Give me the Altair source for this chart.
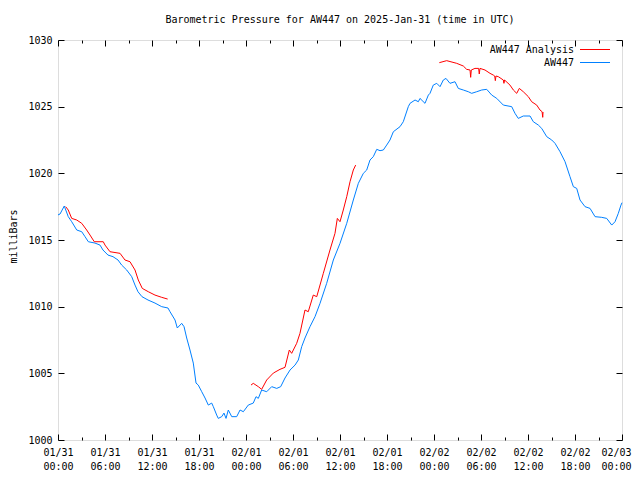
import altair as alt
import pandas as pd

# AW447 station readings (hours since 2025-01-31 00:00 UTC, milliBars)
blue_hours = [0.0, 0.26, 0.80, 1.31, 1.75, 2.39, 3.03, 3.45, 3.87, 4.72,
              5.36, 5.74, 6.38, 7.02, 7.66, 8.13, 8.77, 9.41, 9.83, 10.21,
              10.72, 11.49, 12.38, 13.24, 14.04, 14.30, 14.94, 15.23, 15.79, 16.09,
              16.43, 16.85, 17.27, 17.62, 17.91, 18.35, 18.77, 19.19, 19.62, 19.83,
              20.26, 20.46, 20.90, 21.19, 21.45, 21.74, 22.18, 22.81, 23.24, 23.66,
              24.29, 24.93, 25.28, 25.57, 26.00, 26.64, 27.28, 27.92, 28.43, 28.98,
              29.62, 30.26, 30.68, 31.11, 31.53, 32.17, 32.81, 33.45, 34.30, 35.15,
              36.00, 36.86, 37.70, 38.34, 38.98, 39.41, 39.83, 40.25, 40.69, 41.11,
              41.53, 41.96, 42.38, 42.81, 43.66, 44.08, 44.72, 44.94, 45.58, 46.00,
              46.21, 46.85, 47.28, 47.49, 47.91, 48.35, 48.77, 49.19, 49.53, 50.04,
              50.68, 51.10, 51.74, 52.38, 52.81, 53.45, 54.09, 54.73, 55.37, 56.01,
              56.85, 57.92, 58.34, 58.76, 59.40, 60.26, 60.68, 61.32, 61.75, 62.39,
              63.03, 63.45, 64.09, 64.73, 65.36, 65.79, 66.22, 66.64, 67.28, 67.92,
              68.56, 69.41, 70.05, 70.69, 71.11, 71.53, 71.87, 72.0]
blue_press = [1016.88, 1016.95, 1017.55, 1016.75, 1016.37, 1015.75, 1015.62, 1015.25, 1014.87, 1014.77,
              1014.62, 1014.25, 1013.87, 1013.75, 1013.50, 1013.12, 1012.75, 1012.25, 1011.62, 1011.12,
              1010.75, 1010.50, 1010.27, 1010.00, 1009.90, 1009.62, 1009.00, 1008.40, 1008.75, 1008.50,
              1007.65, 1006.75, 1005.77, 1004.27, 1004.12, 1003.62, 1003.15, 1002.62, 1002.77, 1002.50,
              1001.87, 1001.62, 1001.75, 1002.02, 1001.62, 1002.25, 1001.75, 1001.75, 1002.25, 1002.12,
              1002.62, 1002.77, 1003.25, 1003.12, 1003.75, 1003.62, 1004.00, 1003.87, 1004.00, 1004.65,
              1005.25, 1005.62, 1006.00, 1007.00, 1007.65, 1008.50, 1009.25, 1010.25, 1011.75, 1013.50,
              1014.75, 1016.25, 1018.00, 1019.25, 1020.00, 1020.25, 1021.00, 1021.25, 1021.80, 1021.70,
              1021.75, 1022.12, 1022.50, 1023.12, 1023.50, 1023.87, 1025.00, 1025.25, 1025.50, 1025.37,
              1025.62, 1025.25, 1025.87, 1026.00, 1026.62, 1026.75, 1026.50, 1027.00, 1027.12, 1026.75,
              1026.87, 1026.37, 1026.25, 1026.12, 1026.00, 1026.12, 1026.25, 1026.30, 1025.87, 1025.62,
              1025.12, 1025.00, 1024.50, 1024.12, 1024.30, 1024.30, 1023.87, 1023.62, 1023.37, 1022.75,
              1022.50, 1022.25, 1021.62, 1020.87, 1019.75, 1019.00, 1018.87, 1018.00, 1017.50, 1017.37,
              1016.75, 1016.70, 1016.62, 1016.12, 1016.37, 1017.00, 1017.62, 1017.80]

# AW447 Analysis, three separate runs
red1_hours = [0.98, 1.31, 1.75, 2.39, 3.03, 3.66, 4.09, 4.63, 5.78, 6.00, 6.64,
              7.92, 8.55, 9.19, 9.83, 10.25, 10.76, 11.53, 12.38, 13.24, 14.00]
red1_press = [1017.5, 1017.25, 1016.62, 1016.5, 1016.25, 1015.75, 1015.37, 1014.87, 1014.87, 1014.62, 1014.12,
              1014.0, 1013.5, 1013.37, 1012.75, 1012.0, 1011.37, 1011.12, 1010.87, 1010.7, 1010.57]
red2_hours = [24.64, 24.93, 25.57, 26.00, 26.64, 27.49, 28.34, 28.98, 29.53, 29.83, 30.47, 30.89, 31.53,
              31.95, 32.59, 33.03, 33.87, 34.72, 35.36, 35.66, 36.00, 36.42, 36.86, 37.28, 37.70, 38.00]
red2_press = [1004.12, 1004.25, 1004.0, 1003.8, 1004.5, 1005.02, 1005.3, 1005.45, 1006.75, 1006.5, 1007.25, 1008.0, 1009.75,
              1009.62, 1010.87, 1010.75, 1012.5, 1014.25, 1015.5, 1016.62, 1016.37, 1017.25, 1018.25, 1019.37, 1020.25, 1020.62]
red3_hours = [48.68, 49.62, 50.90, 51.74, 52.17, 52.60, 52.68, 52.76, 53.23, 53.70, 53.78, 53.87,
              54.51, 55.15, 55.57, 55.75, 55.83, 55.91, 56.21, 56.85, 56.93, 57.01, 57.70, 58.13,
              58.56, 58.89, 59.40, 60.04, 60.47, 61.11, 61.53, 61.80, 61.88, 61.92]
red3_press = [1028.3, 1028.45, 1028.25, 1028.05, 1027.8, 1027.75, 1027.2, 1027.75, 1027.87, 1027.87, 1027.45, 1027.87,
              1027.75, 1027.5, 1027.37, 1027.3, 1026.95, 1027.3, 1027.25, 1027.0, 1026.75, 1027.0, 1026.62, 1026.25,
              1026.0, 1026.37, 1026.12, 1025.75, 1025.37, 1025.12, 1024.75, 1024.62, 1024.2, 1024.6]

series_names = ["AW447 Analysis", "AW447"]
series_colors = ["#ff0000", "#0080ff"]
day_labels = ["01/31", "02/01", "02/02", "02/03"]
y_ticks = [1000, 1005, 1010, 1015, 1020, 1025, 1030]
x_ticks = list(range(0, 73, 3))

rows = []
for h, p in zip(blue_hours, blue_press):
    rows.append({"hour": h, "pressure": p, "series": "AW447", "seg": "b"})
for seg, (hs, ps) in enumerate([(red1_hours, red1_press), (red2_hours, red2_press), (red3_hours, red3_press)]):
    for h, p in zip(hs, ps):
        rows.append({"hour": h, "pressure": p, "series": "AW447 Analysis", "seg": f"r{seg}"})
df = pd.DataFrame(rows)

FONT = "DejaVu Sans Mono"
W, H = 564, 400

xscale = alt.Scale(domain=[0, 72], nice=False, zero=False)
yscale = alt.Scale(domain=[1000, 1030], nice=False, zero=False)
cscale = alt.Scale(domain=series_names, range=series_colors)
tick_cond = {"condition": {"test": "datum.value % 6 != 0", "value": 3}, "value": 6}
day_arr = "[" + ",".join(f"'{d}'" for d in day_labels) + "]"
label_expr = (f"datum.value % 6 == 0 ? [{day_arr}[floor(datum.value / 24)], "
              f"format(datum.value % 24, '02d') + ':00'] : ''")
last_shift = {"condition": {"test": "datum.value == 72", "value": -6}, "value": 0}

blue = alt.Chart(df).transform_filter("datum.series == 'AW447'").mark_line(strokeWidth=1).encode(
    x=alt.X("hour:Q", scale=xscale, axis=alt.Axis(
        orient="top", offset=-H, values=x_ticks, tickSize=tick_cond, tickColor="black",
        domain=False, grid=False, labelExpr=label_expr, labelBaseline="top", labelPadding=-13,
        labelLineHeight=14, labelFont=FONT, labelFontSize=10, labelColor="black",
        labelOffset=last_shift,
        labelFlush=False, labelOverlap=False, labelAngle=0, title=None)),
    y=alt.Y("pressure:Q", scale=yscale, axis=alt.Axis(
        orient="right", offset=-W, values=y_ticks, tickSize=6, tickColor="black", format="d",
        domain=False, grid=False, labelAlign="right", labelBaseline="middle", labelPadding=-12,
        labelFont=FONT, labelFontSize=10, labelColor="black", labelFlush=False,
        title="milliBars", titleX=-45, titleY=196, titleAngle=270, titleAlign="center",
        titleBaseline="middle", titleFont=FONT, titleFontSize=10, titleFontWeight="normal",
        titleColor="black")),
    color=alt.Color("series:N", scale=cscale, legend=None),
    detail="seg:N",
)

red = alt.Chart(df).transform_filter("datum.series == 'AW447 Analysis'").mark_line(strokeWidth=1).encode(
    x=alt.X("hour:Q", scale=xscale, axis=alt.Axis(
        orient="bottom", offset=-H, values=x_ticks, tickSize=tick_cond, tickColor="black",
        domain=False, grid=False, labels=False, title=None)),
    y=alt.Y("pressure:Q", scale=yscale, axis=alt.Axis(
        orient="left", offset=-W, values=y_ticks, tickSize=6, tickColor="black",
        domain=False, grid=False, labels=False, title=None)),
    color=alt.Color("series:N", scale=cscale, legend=None),
    detail="seg:N",
)

# key in the top-right corner: label, then a line sample (gnuplot style)
key_layers = []
for i, (name, col) in enumerate(zip(series_names, series_colors)):
    kdf = pd.DataFrame({"label": [name]})
    key_layers.append(
        alt.Chart(kdf).mark_text(align="right", baseline="middle", font=FONT, fontSize=10, color="black")
        .encode(text="label:N", x=alt.value(516), y=alt.value(9.5 + 13 * i)))
    key_layers.append(
        alt.Chart(kdf).mark_rule(color=col, strokeWidth=1)
        .encode(x=alt.value(522), x2=alt.value(552), y=alt.value(9.5 + 13 * i)))

chart = alt.layer(blue, red, *key_layers).resolve_axis(x="independent", y="independent").properties(
    width=W, height=H,
    autosize=alt.AutoSizeParams(type="none"),
    padding={"left": 50, "top": 32, "right": 10, "bottom": 40},
    title=alt.TitleParams(
        text="Barometric Pressure for AW447 on 2025-Jan-31 (time in UTC)",
        font=FONT, fontSize=10, fontWeight="normal", anchor="middle", color="black", offset=10),
).configure_view(stroke="black", strokeWidth=1).configure(background="white")

chart.save("out.html", embed_options={"renderer": "svg", "actions": False})
